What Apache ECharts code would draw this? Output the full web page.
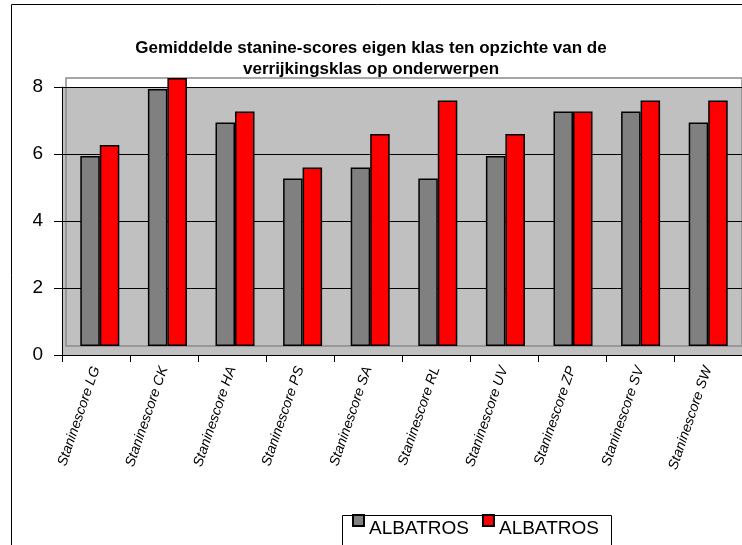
<!DOCTYPE html>
<html>
<head>
<meta charset="utf-8">
<script src="https://cdn.jsdelivr.net/npm/echarts@6/dist/echarts.min.js"></script>
<style>
  html, body { margin: 0; padding: 0; background: #fff; }
  #main { width: 742px; height: 545px; }
</style>
</head>
<body>
<div id="main"></div>
<script>
// categories + waarden (stanine gemiddelden)
var categories = [
  "Staninescore LG", "Staninescore CK", "Staninescore HA", "Staninescore PS", "Staninescore SA",
  "Staninescore RL", "Staninescore UV", "Staninescore ZP", "Staninescore SV", "Staninescore SW"
];
var eigenKlas = [5.67, 7.67, 6.67, 5, 5.33, 5, 5.67, 7, 7, 6.67];
var verrijkingsKlas = [6, 8, 7, 5.33, 6.33, 7.33, 6.33, 7, 7.33, 7.33];
var yMin = 0, yMax = 8, yStep = 2;
var legendLabel = "ALBATROS";

var myChart = echarts.init(document.getElementById("main"));

var font = "Liberation Sans, Arial, sans-serif";

// legenda-vierkantje bovenin een hoger vak, zodat de tekst lager staat
var legendIcon = "path://M0,0L11,0L11,11L0,11Z M0,28L0,28";

var option = {
  animation: false,
  title: {
    text: "Gemiddelde stanine-scores eigen klas ten opzichte van de\nverrijkingsklas op onderwerpen",
    left: "center",
    top: 38,
    padding: 0,
    textStyle: {
      fontFamily: font,
      fontSize: 17,
      fontWeight: "bold",
      color: "#000",
      lineHeight: 21,
    },
  },
  legend: {
    left: 352,
    top: 514,
    padding: 0,
    itemWidth: 11,
    itemHeight: 28,
    itemGap: 13,
    icon: legendIcon,
    formatter: function () {
      return legendLabel;
    },
    textStyle: {
      fontFamily: font,
      fontSize: 19,
      color: "#000",
    },
  },
  grid: [
    {
      // voorkant: assen + grijs vlak
      left: 62,
      top: 87,
      width: 680,
      height: 268,
      show: true,
      backgroundColor: "#C0C0C0",
      borderWidth: 0,
    },
    {
      // achterwand (3D effect)
      left: 66,
      top: 78,
      width: 680,
      height: 268,
      show: true,
      backgroundColor: "transparent",
      borderColor: "#8a8a8a",
      borderWidth: 1.5,
    },
  ],
  xAxis: [
    {
      type: "category",
      gridIndex: 0,
      data: categories,
      axisLine: { lineStyle: { color: "#000", width: 1 } },
      axisTick: { show: true, length: 7, lineStyle: { color: "#000" } },
      axisLabel: {
        interval: 0,
        rotate: 71,
        margin: 12,
        fontFamily: font,
        fontSize: 14,
        fontStyle: "italic",
        color: "#000",
      },
    },
    {
      type: "category",
      gridIndex: 1,
      data: categories,
      show: false,
    },
  ],
  yAxis: [
    {
      type: "value",
      gridIndex: 0,
      min: yMin,
      max: yMax,
      interval: yStep,
      axisLine: { show: true, lineStyle: { color: "#000", width: 1 } },
      axisTick: { show: true, length: 8, lineStyle: { color: "#000" } },
      splitLine: { show: true, lineStyle: { color: "#000", width: 1 } },
      axisLabel: {
        margin: 19,
        fontFamily: font,
        fontSize: 19,
        color: "#000",
      },
    },
    {
      type: "value",
      gridIndex: 1,
      min: yMin,
      max: yMax,
      interval: yStep,
      show: false,
      splitLine: { show: false },
    },
  ],
  series: [
    {
      name: "ALBATROS eigen klas",
      type: "bar",
      xAxisIndex: 1,
      yAxisIndex: 1,
      data: eigenKlas,
      barWidth: 19.5,
      barGap: "0%",
      itemStyle: { color: "#808080", borderColor: "#000", borderWidth: 1.5 },
    },
    {
      name: "ALBATROS verrijkingsklas",
      type: "bar",
      xAxisIndex: 1,
      yAxisIndex: 1,
      data: verrijkingsKlas,
      barWidth: 19.5,
      barGap: "0%",
      itemStyle: { color: "#FF0000", borderColor: "#000", borderWidth: 1.5 },
    },
  ],
  graphic: [
    {
      // rand om de grafiek
      type: "rect",
      left: 9,
      top: 2,
      shape: { width: 740, height: 550 },
      style: { fill: "none", stroke: "#000", lineWidth: 1 },
      silent: true,
    },
    {
      // rand om de legenda
      type: "rect",
      left: 340,
      top: 513,
      shape: { width: 269, height: 31 },
      style: { fill: "none", stroke: "#000", lineWidth: 1 },
      silent: true,
    },
  ],
};

myChart.setOption(option);
</script>
</body>
</html>
